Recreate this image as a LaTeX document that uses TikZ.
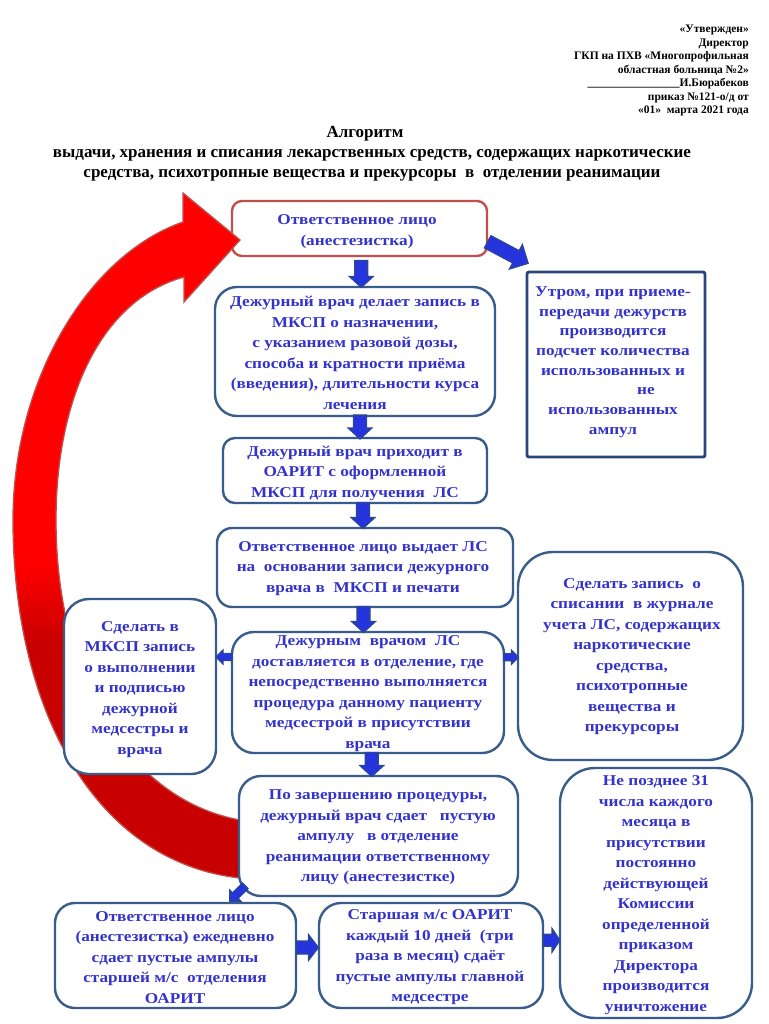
\documentclass[tikz,border=0pt]{standalone}
\usepackage{fontspec}
\setmainfont{Liberation Serif}
\newfontfamily\bxf[FakeStretch=1.15]{Liberation Serif}
\usetikzlibrary{calc}
\definecolor{boxblue}{RGB}{56,93,138}
\definecolor{darkframe}{RGB}{40,70,120}
\definecolor{txtblue}{RGB}{51,51,204}
\definecolor{boxred}{RGB}{192,80,77}
\definecolor{arrfill}{RGB}{38,52,222}
\definecolor{arrline}{RGB}{44,72,140}
\definecolor{brightred}{RGB}{255,0,0}
\definecolor{darkred}{RGB}{200,0,0}
\pgfdeclareverticalshading{redarc}{100bp}{color(0bp)=(darkred); color(42bp)=(darkred); color(48bp)=(brightred); color(100bp)=(brightred)}
\tikzset{
  bx/.style={draw=boxblue, line width=2.4pt, fill=white, inner sep=0pt},
  txt/.style={text=txtblue, align=center, inner sep=0pt, font=\bxf\bfseries\fontsize{15}{20.5}\selectfont},
  barrowp/.style={draw=arrline, fill=arrfill, line width=1.1pt, line join=miter},
  hdr/.style={align=right, inner sep=0pt, font=\bfseries\fontsize{11.5}{13.5}\selectfont},
  ttl/.style={align=center, inner sep=0pt, font=\bfseries\fontsize{17}{20}\selectfont}
}
% block arrow: name, centre, rotation, length, shaft width, head width, head length
\newcommand\blk[7]{%
  \begin{scope}[shift={#2}, rotate=#3]
    \path[barrowp] (-#4/2,-#5/2) -- (#4/2-#7,-#5/2) -- (#4/2-#7,-#6/2) -- (#4/2,0)
      -- (#4/2-#7,#6/2) -- (#4/2-#7,#5/2) -- (-#4/2,#5/2) -- cycle;
    \coordinate (#1) at (0,0);
  \end{scope}}
\begin{document}
\begin{tikzpicture}[x=1pt,y=-1pt]
\useasboundingbox (0,0) rectangle (768,1024);
\fill[white] (0,0) rectangle (768,1024);

% header and title
\node[hdr, anchor=north east] (hdr) at (749,25) {«Утвержден»\\Директор\\ГКП на ПХВ «Многопрофильная\hspace*{5pt}\\областная больница №2»\hspace*{3pt}\\\textunderscore\textunderscore\textunderscore\textunderscore\textunderscore\textunderscore\textunderscore\textunderscore\textunderscore\textunderscore\textunderscore\textunderscore\textunderscore\textunderscore\textunderscore\textunderscore И.Бюрабеков\\приказ №121-о/д от\hspace*{2pt}\\«01»~ марта 2021 года};
\node[ttl, anchor=north] (title) at (372,126) {Алгоритм\hspace*{14pt}\\выдачи, хранения и списания лекарственных средств, содержащих наркотические\\средства, психотропные вещества и прекурсоры~ в~ отделении реанимации};

% top box (red frame)
\node[bx, draw=boxred, rounded corners=10pt, minimum width=255pt, minimum height=55pt] (b1) at (359.5,228.5) {};

% big red return arrow
\path[draw=boxred, line width=1.3pt, shading=redarc]
  (240,878) .. controls (95,862) and (13,710) .. (13,520)
  .. controls (13,380) and (88,255) .. (183,222)
  -- (183,193) -- (240,240) -- (184,302) -- (184,277)
  .. controls (100,300) and (56,400) .. (56,520)
  .. controls (56,680) and (130,800) .. (240,820) -- cycle;

% boxes
\node[bx, rounded corners=22pt, minimum width=280pt, minimum height=129pt] (b2) at (355,351.5) {};
\node[bx, draw=darkframe, line width=2.8pt, rounded corners=2pt, minimum width=178pt, minimum height=185pt] (b3) at (616,364.5) {};
\node[bx, rounded corners=12pt, minimum width=264pt, minimum height=65pt] (b4) at (355,470.5) {};
\node[bx, rounded corners=15pt, minimum width=296pt, minimum height=79pt] (b5) at (365,567.5) {};
\node[bx, rounded corners=25pt, minimum width=152pt, minimum height=175pt] (b6) at (140,686.5) {};
\node[bx, rounded corners=22pt, minimum width=272pt, minimum height=121pt] (b7) at (368,692.5) {};
\node[bx, rounded corners=35pt, minimum width=225pt, minimum height=208pt] (b8) at (630.5,656) {};
\node[bx, rounded corners=22pt, minimum width=279pt, minimum height=120pt] (b9) at (378.5,836) {};
\node[bx, rounded corners=20pt, minimum width=241pt, minimum height=105pt] (b10) at (175.5,955.5) {};
\node[bx, rounded corners=22pt, minimum width=224pt, minimum height=105pt] (b11) at (431,955.5) {};
\node[bx, rounded corners=35pt, minimum width=192pt, minimum height=250pt] (b12) at (656,893) {};

% blue block arrows between the boxes
\blk{a12}{($(b1.south)!0.5!(b2.north)+(4,2.5)$)}{-90}{27}{13}{24}{11}
\blk{a24}{($(b2.south)!0.5!(b4.north)+(5,0)$)}{-90}{24}{13}{24}{11}
\blk{a45}{($(b4.south)!0.5!(b5.north)+(3,0)$)}{-90}{26}{13}{24}{11}
\blk{a57}{($(b5.south)!0.5!(b7.north)+(-3,0)$)}{-90}{26}{13}{24}{11}
\blk{a79}{($(b7.south)!0.5!(b9.north)+(-1.5,0)$)}{-90}{24}{13}{24}{11}
\blk{a76}{($(b7.west)!0.5!(b6.east)+(0,-32.5)$)}{180}{16}{7}{14}{7}
\blk{a78}{($(b7.east)!0.5!(b8.west)+(0,-17)$)}{0}{15}{7}{14}{7}
\blk{a13}{($(b1.east)!0.5!(b3.north west)+(1,3)$)}{-28}{46}{14}{28}{14}
\blk{a910}{($(b9.south west)!0.5!(b10.north east)+(-30,-6)$)}{-135}{22}{8}{16}{8}
\blk{a1011}{($(b10.east)!0.5!(b11.west)+(0,-8)$)}{0}{22}{13}{26}{10}
\blk{a1112}{($(b11.east)!0.5!(b12.west)+(0,16)$)}{0}{17}{12}{24}{8}

% texts
\node[txt, font=\bxf\bfseries\fontsize{15}{21}\selectfont] (t1) at (357,231.5) {Ответственное лицо\\(анестезистка)};
\node[txt] (t2) at (355,353) {Дежурный врач делает запись в\\МКСП о назначении,\\с указанием разовой дозы,\\способа и кратности приёма\\(введения), длительности курса\\лечения};
\node[txt, font=\bxf\bfseries\fontsize{15}{19.7}\selectfont] (t3) at (613,362) {Утром, при приеме-\\передачи дежурств\\производится\\подсчет количества\\использованных и\\\hspace*{66pt}не\\использованных\\ампул};
\node[txt] (t4) at (355,473) {Дежурный врач приходит в\\ОАРИТ с оформленной\\МКСП для получения~ ЛС};
\node[txt] (t5) at (363,568.5) {Ответственное лицо выдает ЛС\\на~ основании записи дежурного\\врача в~ МКСП и печати};
\node[txt] (t6) at (140,689.5) {Сделать в\\МКСП запись\\о выполнении\\и подписью\\дежурной\\медсестры и\\врача};
\node[txt] (t7) at (368,693.5) {Дежурным~ врачом~ ЛС\\доставляется в отделение, где\\непосредственно выполняется\\процедура данному пациенту\\медсестрой в присутствии\\врача};
\node[txt] (t8) at (632,656.5) {Сделать запись~ о\\списании~ в журнале\\учета ЛС, содержащих\\наркотические\\средства,\\психотропные\\вещества и\\прекурсоры};
\node[txt] (t9) at (378,837.5) {По завершению процедуры,\\дежурный врач сдает~~ пустую\\ампулу~~ в отделение\\реанимации ответственному\\лицу (анестезистке)};
\node[txt] (t10) at (175,957.5) {Ответственное лицо\\(анестезистка) ежедневно\\сдает пустые ампулы\\старшей м/с~ отделения\\ОАРИТ};
\node[txt] (t11) at (430,957.5) {Старшая м/с ОАРИТ\\каждый 10 дней~ (три\\раза в месяц) сдаёт\\пустые ампулы главной\\медсестре};
\node[txt] (t12) at (656,895) {Не позднее 31\\числа каждого\\месяца в\\присутствии\\постоянно\\действующей\\Комиссии\\определенной\\приказом\\Директора\\производится\\уничтожение};
\end{tikzpicture}
\end{document}
